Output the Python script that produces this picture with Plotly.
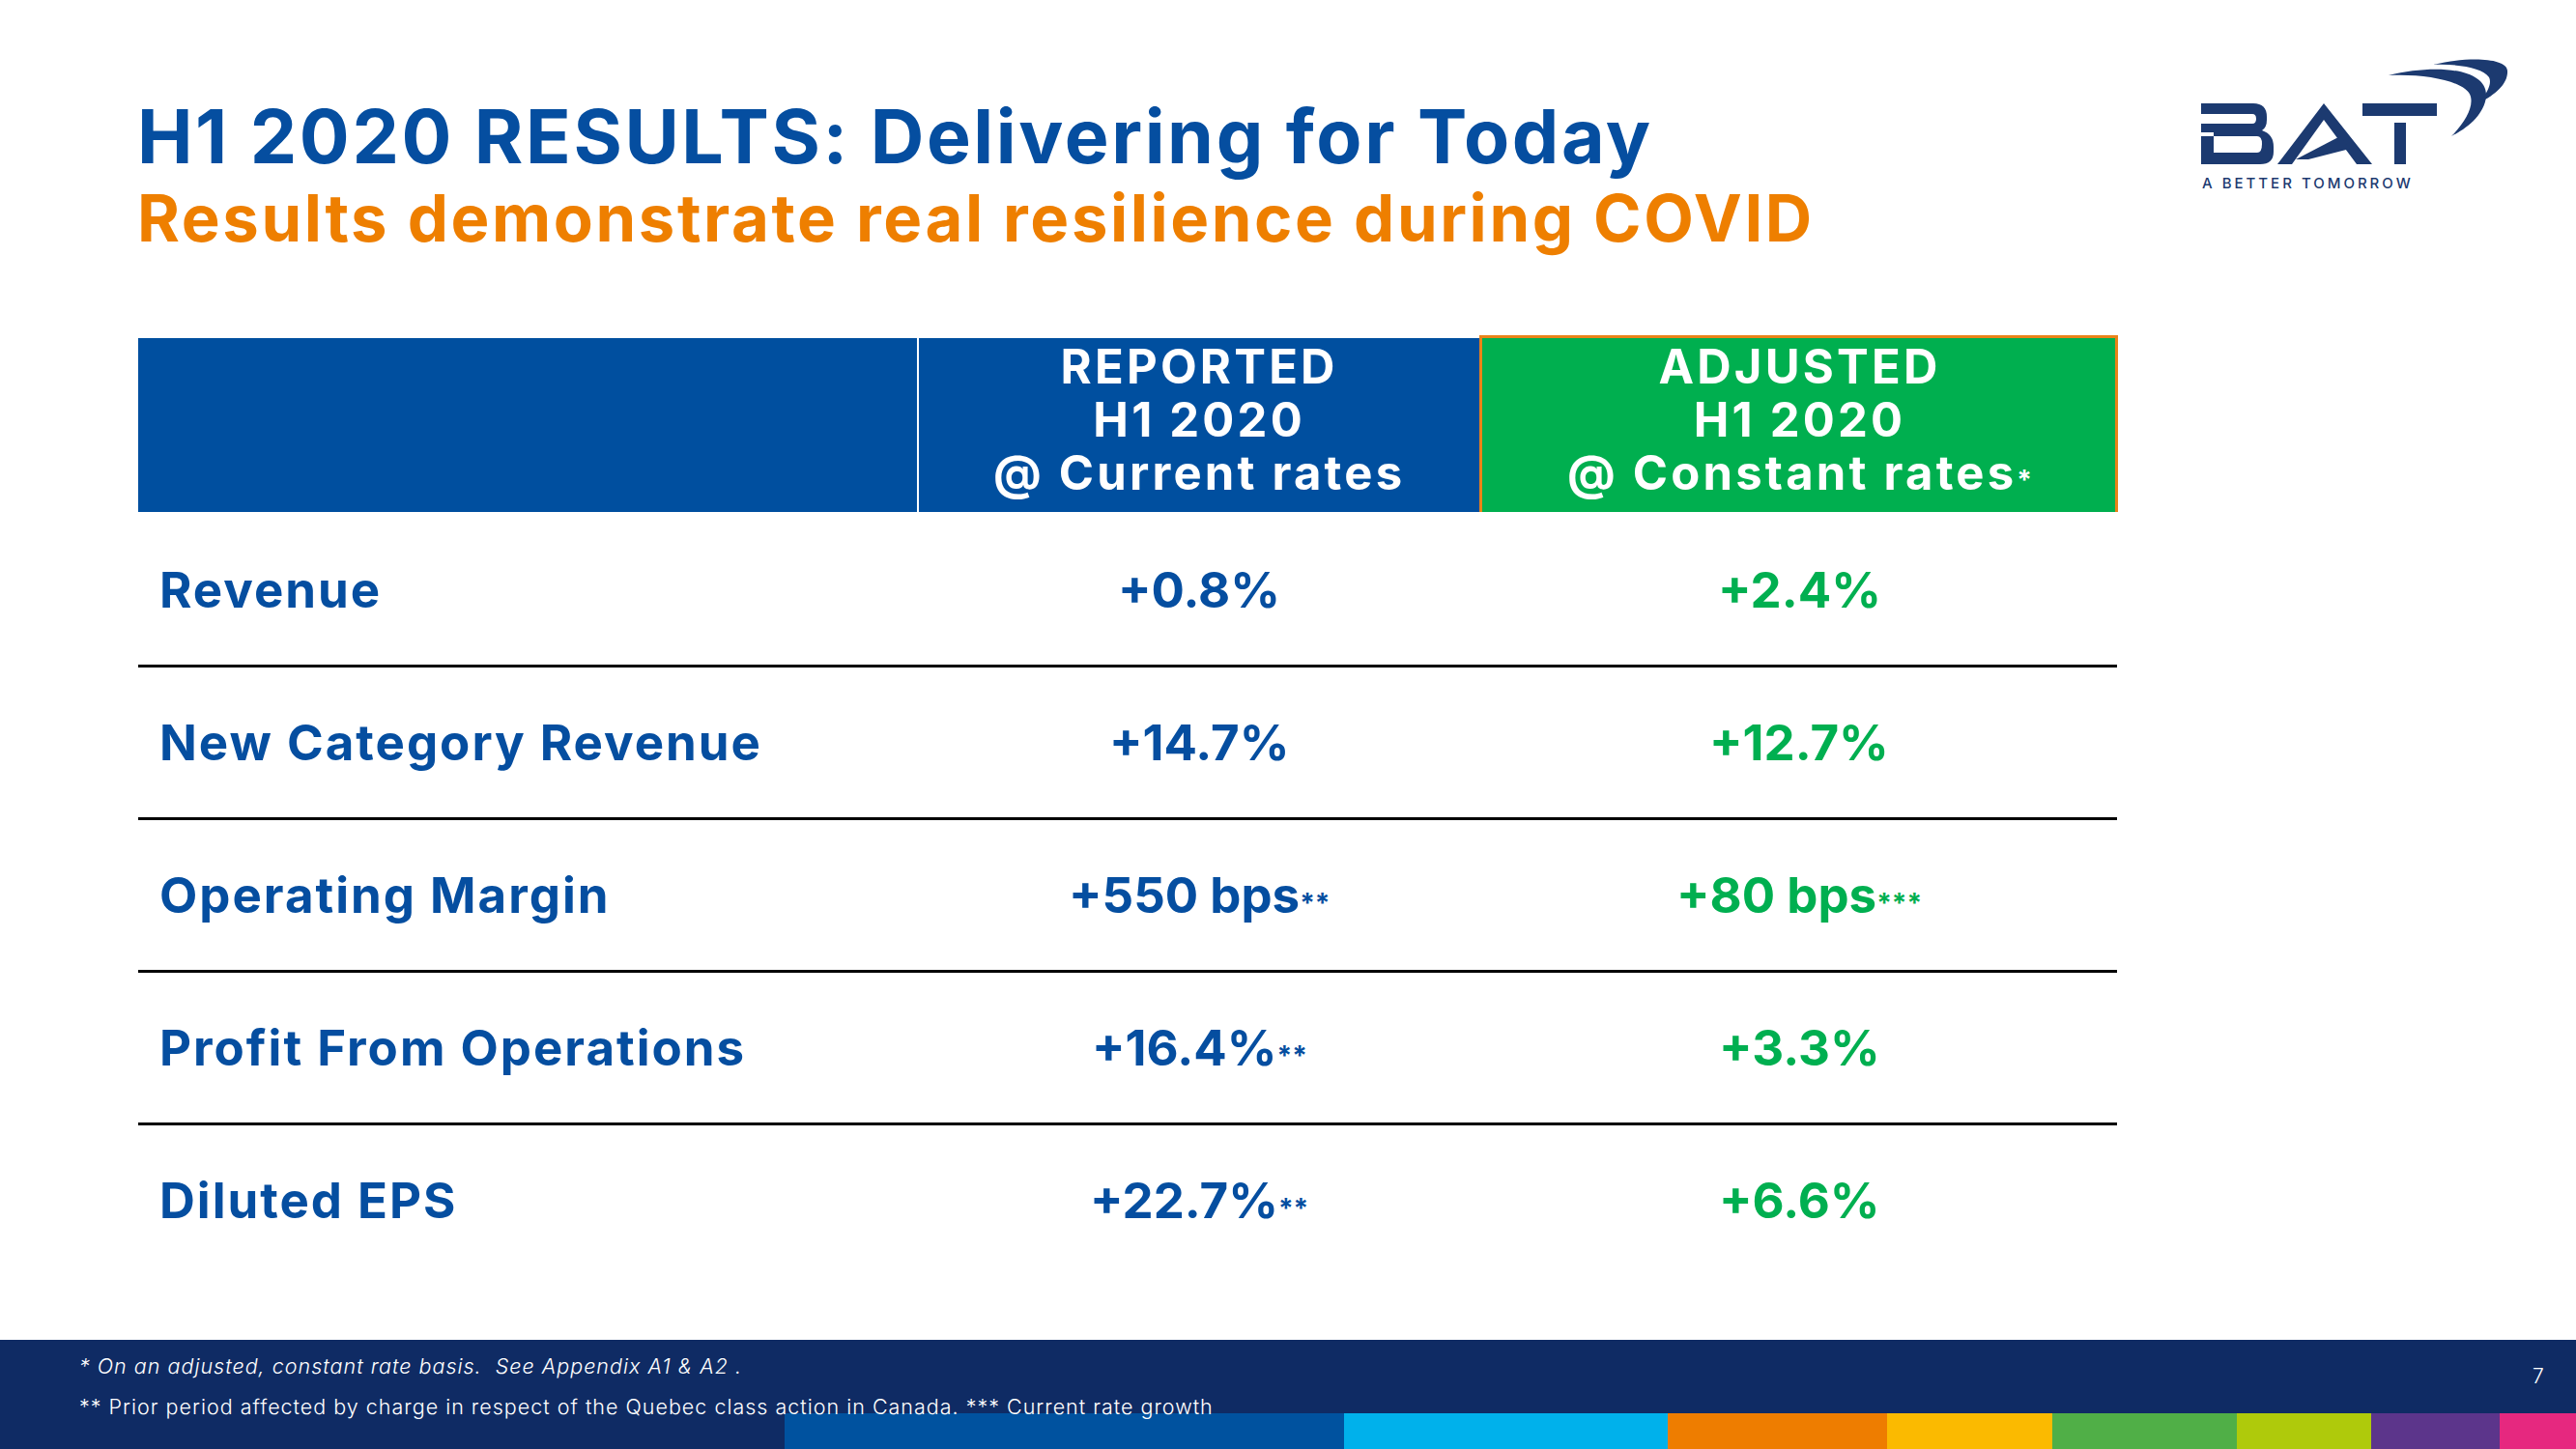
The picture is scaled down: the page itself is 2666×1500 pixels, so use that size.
import plotly.graph_objects as go

# ---------------- data ----------------
title_text = "H1 2020 RESULTS: Delivering for Today"
subtitle_text = "Results demonstrate real resilience during COVID"

header_reported = ["REPORTED", "H1 2020", "@ Current rates"]
header_adjusted = ["ADJUSTED", "H1 2020", "@ Constant rates"]
header_adjusted_note = ["", "", "*"]

row_labels = ["Revenue", "New Category Revenue", "Operating Margin",
              "Profit From Operations", "Diluted EPS"]
reported = ["+0.8%", "+14.7%", "+550 bps", "+16.4%", "+22.7%"]
reported_notes = ["", "", "**", "**", "**"]
adjusted = ["+2.4%", "+12.7%", "+80 bps", "+3.3%", "+6.6%"]
adjusted_notes = ["", "", "***", "", ""]

footnotes = ["* On an adjusted, constant rate basis.  See Appendix A1 & A2 .",
             "** Prior period affected by charge in respect of the Quebec class action in Canada. *** Current rate growth"]
page_number = "7"
logo_tagline = "A BETTER TOMORROW"

strip_colors = ["#00529F", "#00B1EB", "#EE7D00", "#FBBA00", "#50AF47",
                "#AFCA0B", "#5C358B", "#E6287F"]
strip_edges = [812, 1391, 1726, 1953, 2124, 2315, 2454, 2587, 2666]

# ---------------- styling ----------------
W, H = 2666, 1500
BLUE = "#054EA0"
ORANGE = "#EE7F00"
GREEN = "#00AF50"
NAVY = "#0F2B64"
LOGO = "#1C3A70"
FONT = "Inter"

fig = go.Figure()
fig.add_trace(go.Scatter(x=[0, W], y=[0, H], mode="markers",
                         marker=dict(opacity=0), hoverinfo="skip", showlegend=False))

shapes = []
ann = []

def sp(s, px):
    return f"<span style='letter-spacing:{px}px'>{s}</span>"

def small(s, size):
    return f"<span style='font-size:{size}px'>{s}</span>" if s else ""

def text(x, y, s, size, color, xanchor="left", weight=700, style="normal"):
    ann.append(dict(x=x, y=y, xref="x", yref="y", text=s, showarrow=False,
                    xanchor=xanchor, yanchor="middle",
                    font=dict(family=FONT, size=size, color=color, weight=weight, style=style)))

# titles
text(140, 141, sp(title_text, 2.6), 77, BLUE)
text(140, 225, sp(subtitle_text, 2.6), 67, ORANGE)

# header cells
shapes.append(dict(type="rect", x0=143, x1=949, y0=350, y1=530, fillcolor="#004F9F", line=dict(width=0), layer="below"))
shapes.append(dict(type="rect", x0=951, x1=1532, y0=350, y1=530, fillcolor="#004F9F", line=dict(width=0), layer="below"))
shapes.append(dict(type="rect", x0=1532, x1=2191, y0=348, y1=530, fillcolor="#00AF4F", line=dict(width=0), layer="below"))
shapes.append(dict(type="path", path="M 1532.5 530 L 1532.5 348.5 L 2190.5 348.5 L 2190.5 530",
                   line=dict(color="#E98318", width=3), layer="below"))

col_rep, col_adj = 1241, 1862

def header_block(lines, notes):
    out = []
    for ln, nt in zip(lines, notes):
        s = f"<span style='font-size:49px;letter-spacing:3.2px'>{ln}</span>"
        if nt:
            s += small(nt, 28)
        out.append(s)
    return "<br>".join(out)

# base size 42.3 -> line pitch 1.3em = 55px; glyphs enlarged to 49px
text(col_rep, 434, header_block(header_reported, ["", "", ""]), 42.3, "white", xanchor="center")
text(col_adj, 434, header_block(header_adjusted, header_adjusted_note), 42.3, "white", xanchor="center")

# rows
row0, step = 610, 158
for i, lab in enumerate(row_labels):
    y = row0 + i * step
    text(163, y, sp(lab, 2.0), 51, BLUE)
    text(col_rep, y, reported[i] + small(reported_notes[i], 28), 51, BLUE, xanchor="center")
    text(col_adj, y, adjusted[i] + small(adjusted_notes[i], 28), 51, GREEN, xanchor="center")
    if i < len(row_labels) - 1:
        ly = (row0 + (i + 0.5) * step) + 0.5
        shapes.append(dict(type="line", x0=143, x1=2191, y0=ly, y1=ly, line=dict(color="black", width=3)))

# footer
shapes.append(dict(type="rect", x0=0, x1=W, y0=1387, y1=H, fillcolor=NAVY, line=dict(width=0), layer="below"))
for i, c in enumerate(strip_colors):
    shapes.append(dict(type="rect", x0=strip_edges[i], x1=strip_edges[i + 1], y0=1463, y1=H,
                       fillcolor=c, line=dict(width=0), layer="below"))
text(80, 1414, sp(footnotes[0], 1.0), 21.5, "white", weight=300, style="italic")
text(80, 1456, sp(footnotes[1], 1.0), 21.5, "white", weight=300)
text(2627, 1424, page_number, 21, "white", xanchor="center", weight=300)

# logo (BAT)
B_outer = ("M 2278 107 L 2332 107 Q 2346 107 2346 121 L 2346 124 Q 2346 132 2341 135 "
           "Q 2353 139 2353 152 L 2353 157 Q 2353 170 2339 170 L 2278 170 Z")
shapes.append(dict(type="path", path=B_outer, fillcolor=LOGO, line=dict(width=0)))
shapes.append(dict(type="path", path="M 2278 118 L 2331 118 Q 2335 118 2335 123 Q 2335 128 2331 128 L 2278 128 Z",
                   fillcolor="white", line=dict(width=0)))
shapes.append(dict(type="rect", x0=2277, x1=2291, y0=137, y1=141, fillcolor="white", line=dict(width=0)))
shapes.append(dict(type="path", path="M 2291 141 L 2336 141 Q 2341 141 2341 149 Q 2341 158 2336 158 L 2291 158 Z",
                   fillcolor="white", line=dict(width=0)))
# A
shapes.append(dict(type="path", path="M 2357 170 L 2405 107 L 2455 170 L 2439 170 L 2405 124 L 2372 170 Z",
                   fillcolor=LOGO, line=dict(width=0)))
shapes.append(dict(type="path", path="M 2376 165 L 2422 141 L 2432 154 L 2389 165 Z",
                   fillcolor=LOGO, line=dict(width=0)))
# T
shapes.append(dict(type="rect", x0=2445, x1=2522, y0=107, y1=120, fillcolor=LOGO, line=dict(width=0)))
shapes.append(dict(type="rect", x0=2478, x1=2490, y0=127, y1=170, fillcolor=LOGO, line=dict(width=0)))
# swoosh
shapes.append(dict(type="path",
                   path="M 2472 78 C 2520 66, 2575 70, 2573 100 C 2571 118, 2555 132, 2537 141 "
                        "C 2550 128, 2560 112, 2557 100 C 2553 84, 2510 76, 2472 78 Z",
                   fillcolor=LOGO, line=dict(width=0)))
shapes.append(dict(type="path",
                   path="M 2518 67 C 2555 58, 2594 60, 2595 73 C 2596 86, 2583 98, 2566 106 "
                        "C 2575 95, 2579 86, 2576 80 C 2569 70, 2545 66, 2518 67 Z",
                   fillcolor=LOGO, line=dict(width=0)))
text(2277, 189, sp(logo_tagline, 3.0), 15, LOGO, weight=500)

fig.update_layout(
    width=W, height=H, margin=dict(l=0, r=0, t=0, b=0),
    paper_bgcolor="white", plot_bgcolor="white",
    xaxis=dict(range=[0, W], visible=False, fixedrange=True),
    yaxis=dict(range=[H, 0], visible=False, fixedrange=True),
    shapes=shapes, annotations=ann, showlegend=False,
)
fig.write_html("out.html", config={"displayModeBar": False},
               post_script="document.body.style.margin='0';document.body.style.overflow='hidden';")
